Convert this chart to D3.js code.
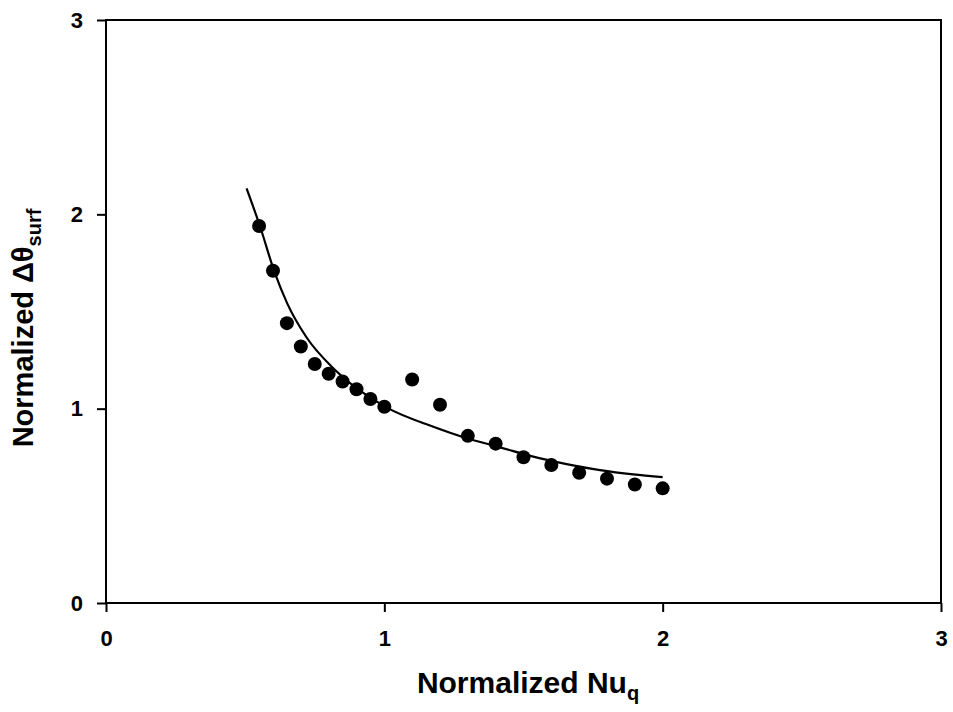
<!DOCTYPE html>
<html>
<head>
<meta charset="utf-8">
<script src="https://cdn.jsdelivr.net/npm/d3@7"></script>
<style>
  body { margin: 0; background: #fff; }
  svg { display: block; font-family: Arial, "Liberation Sans", sans-serif; font-weight: bold; }
</style>
</head>
<body>
<div id="chart"></div>
<script>
// measured points
const nuValues = [0.55, 0.6, 0.65, 0.7, 0.75, 0.8, 0.85, 0.9, 0.95, 1.0,
                  1.1, 1.2, 1.3, 1.4, 1.5, 1.6, 1.7, 1.8, 1.9, 2.0];
const thetaValues = [1.94, 1.71, 1.44, 1.32, 1.23, 1.18, 1.14, 1.10, 1.05, 1.01,
                     1.15, 1.02, 0.86, 0.82, 0.75, 0.71, 0.67, 0.64, 0.61, 0.59];
// fitted curve
const curveX = [0.505, 0.553, 0.605, 0.651, 0.719, 0.823, 1.006, 1.176, 1.296, 1.416, 1.535, 1.655, 1.775, 1.894, 2.0];
const curveY = [2.134, 1.94, 1.705, 1.542, 1.37, 1.199, 1.008, 0.907, 0.848, 0.801, 0.753, 0.715, 0.684, 0.662, 0.648];
const ticks = [0, 1, 2, 3];

const width = 953, height = 712;
const x = d3.scaleLinear().domain([0, 3]).range([106, 941]);
const y = d3.scaleLinear().domain([0, 3]).range([603, 20]);

const svg = d3.select('#chart').append('svg')
  .attr('width', width)
  .attr('height', height);

// frame
svg.append('rect')
  .attr('x', x(0))
  .attr('y', y(3))
  .attr('width', x(3) - x(0))
  .attr('height', y(0) - y(3))
  .attr('fill', 'none')
  .attr('stroke', '#000')
  .attr('stroke-width', 2);

const xAxis = svg.append('g')
  .attr('transform', `translate(0, ${y(0)})`)
  .call(d3.axisBottom(x).tickValues(ticks).tickSize(9).tickPadding(18).tickFormat(d3.format('d')));
const yAxis = svg.append('g')
  .attr('transform', `translate(${x(0)}, 0)`)
  .call(d3.axisLeft(y).tickValues(ticks).tickSize(9).tickPadding(14).tickFormat(d3.format('d')));

[xAxis, yAxis].forEach(g => {
  g.select('.domain').remove();
  g.selectAll('line').attr('stroke', '#000').attr('stroke-width', 2);
  g.selectAll('text')
    .attr('fill', '#000')
    .style('font-size', '22px')
    .style('font-weight', 'bold')
    .style('font-family', 'Arial, "Liberation Sans", sans-serif');
});

// curve
const curvePts = curveX.map((d, i) => [d, curveY[i]]);
svg.append('path')
  .datum(curvePts)
  .attr('d', d3.line()
    .x(d => x(d[0]))
    .y(d => y(d[1]))
    .curve(d3.curveMonotoneX))
  .attr('fill', 'none')
  .attr('stroke', '#000')
  .attr('stroke-width', 2.2);

// points
svg.append('g')
  .selectAll('circle')
  .data(nuValues.map((d, i) => ({ nu: d, theta: thetaValues[i] })))
  .join('circle')
    .attr('cx', d => x(d.nu))
    .attr('cy', d => y(d.theta))
    .attr('r', 7)
    .attr('fill', '#000');

// axis titles
const xTitle = svg.append('text')
  .attr('x', 528)
  .attr('y', 693)
  .attr('text-anchor', 'middle')
  .style('font-size', '30px');
xTitle.append('tspan').text('Normalized Nu');
xTitle.append('tspan').attr('dy', 7).style('font-size', '20px').text('q');

const yTitle = svg.append('text')
  .attr('transform', 'translate(33, 328) rotate(-90)')
  .attr('text-anchor', 'middle')
  .style('font-size', '29px');
yTitle.append('tspan').text('Normalized Δθ');
yTitle.append('tspan').attr('dy', 8).style('font-size', '20px').text('surf');
</script>
</body>
</html>
